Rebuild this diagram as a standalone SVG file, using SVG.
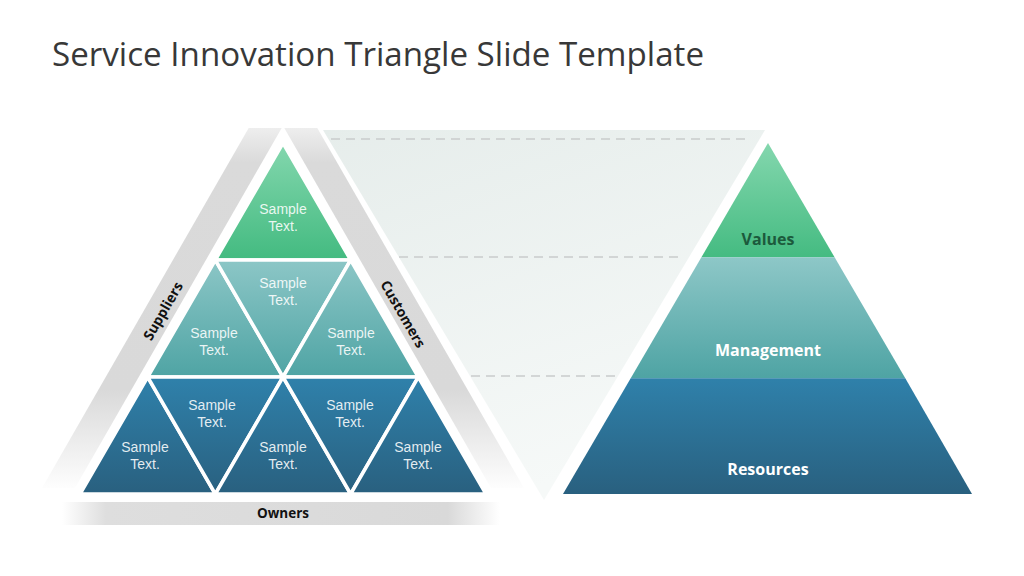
<svg xmlns="http://www.w3.org/2000/svg" width="1024" height="576" viewBox="0 0 1024 576">
  <style>
    .title { font-family: "Open Sans", "Liberation Sans", sans-serif; font-size: 33px; fill: #383838; }
    .st { font-family: "Liberation Sans", "Open Sans", sans-serif; font-size: 14px; fill: #ffffff; fill-opacity: 0.88; text-anchor: middle; }
    .lbl { font-family: "Open Sans", "Liberation Sans", sans-serif; font-size: 14px; font-weight: bold; fill: #111111; text-anchor: middle; }
    .lvl { font-family: "Open Sans", "Liberation Sans", sans-serif; font-size: 16px; font-weight: bold; fill: #ffffff; text-anchor: middle; }
    .cell { stroke: #ffffff; stroke-width: 3.5; stroke-linejoin: miter; }
    .dash { stroke: #c9cccb; stroke-width: 1.6; stroke-dasharray: 9 6; fill: none; }
  </style>
  <defs>
    <linearGradient id="gGreen" gradientUnits="userSpaceOnUse" x1="0" y1="143" x2="0" y2="258">
      <stop offset="0" stop-color="#84d7ae"/>
      <stop offset="1" stop-color="#44bb81"/>
    </linearGradient>
    <linearGradient id="gTeal" gradientUnits="userSpaceOnUse" x1="0" y1="258" x2="0" y2="377">
      <stop offset="0" stop-color="#8dc7c7"/>
      <stop offset="1" stop-color="#4fa4a4"/>
    </linearGradient>
    <linearGradient id="gBlue" gradientUnits="userSpaceOnUse" x1="0" y1="377" x2="0" y2="494">
      <stop offset="0" stop-color="#2f81ab"/>
      <stop offset="1" stop-color="#29607f"/>
    </linearGradient>
    <linearGradient id="gBand" gradientUnits="userSpaceOnUse" x1="0" y1="126" x2="0" y2="492">
      <stop offset="0" stop-color="#efefef"/>
      <stop offset="0.1" stop-color="#dadada"/>
      <stop offset="0.72" stop-color="#d9d9d9"/>
      <stop offset="1" stop-color="#ffffff"/>
    </linearGradient>
    <linearGradient id="gOwners" gradientUnits="userSpaceOnUse" x1="62" y1="0" x2="500" y2="0">
      <stop offset="0" stop-color="#ffffff"/>
      <stop offset="0.1" stop-color="#dedede"/>
      <stop offset="0.88" stop-color="#d9d9d9"/>
      <stop offset="1" stop-color="#ffffff"/>
    </linearGradient>
    <linearGradient id="gMid" x1="0" y1="0" x2="0.4" y2="1">
      <stop offset="0" stop-color="#e6edeb"/>
      <stop offset="1" stop-color="#f6f9f8"/>
    </linearGradient>
  </defs>

  <rect x="0" y="0" width="1024" height="576" fill="#ffffff"/>

  <text class="title" x="52" y="66" textLength="652" lengthAdjust="spacingAndGlyphs">Service Innovation Triangle Slide Template</text>

  <!-- Middle inverted triangle with dashed guides -->
  <g id="middle">
    <polygon points="323,130 765,130 544,500" fill="url(#gMid)"/>
    <line class="dash" x1="331" y1="139" x2="746" y2="139"/>
    <line class="dash" x1="399" y1="257" x2="680" y2="257"/>
    <line class="dash" x1="471" y1="376" x2="618" y2="376"/>
  </g>

  <!-- Frame bands -->
  <g id="band-suppliers">
    <polygon points="281.7,128 248.7,128 42,488 75,488" fill="url(#gBand)"/>
    <text class="lbl" transform="translate(163,311) rotate(-60)" y="5">Suppliers</text>
  </g>
  <g id="band-customers">
    <polygon points="284.3,128 317.3,128 524,488 491,488" fill="url(#gBand)"/>
    <text class="lbl" transform="translate(403,314) rotate(60)" y="5">Customers</text>
  </g>
  <g id="band-owners">
    <rect x="62" y="502" width="438" height="23" fill="url(#gOwners)"/>
    <text class="lbl" x="283" y="518" style="font-size:13.5px">Owners</text>
  </g>

  <!-- Left pyramid cells -->
  <g id="cell-1">
    <polygon class="cell" points="283,143 350.67,260 215.33,260" fill="url(#gGreen)"/>
    <text class="st" x="283" y="214">Sample</text>
    <text class="st" x="283" y="230.5">Text.</text>
  </g>
  <g id="cell-2">
    <polygon class="cell" points="215.33,260 283,377 147.67,377" fill="url(#gTeal)"/>
    <text class="st" x="214" y="338">Sample</text>
    <text class="st" x="214" y="354.5">Text.</text>
  </g>
  <g id="cell-3">
    <polygon class="cell" points="215.33,260 350.67,260 283,377" fill="url(#gTeal)"/>
    <text class="st" x="283" y="288">Sample</text>
    <text class="st" x="283" y="304.5">Text.</text>
  </g>
  <g id="cell-4">
    <polygon class="cell" points="350.67,260 418.33,377 283,377" fill="url(#gTeal)"/>
    <text class="st" x="351" y="338">Sample</text>
    <text class="st" x="351" y="354.5">Text.</text>
  </g>
  <g id="cell-5">
    <polygon class="cell" points="147.67,377 215.33,494 80,494" fill="url(#gBlue)"/>
    <text class="st" x="145" y="452">Sample</text>
    <text class="st" x="145" y="468.5">Text.</text>
  </g>
  <g id="cell-6">
    <polygon class="cell" points="147.67,377 283,377 215.33,494" fill="url(#gBlue)"/>
    <text class="st" x="212" y="410">Sample</text>
    <text class="st" x="212" y="426.5">Text.</text>
  </g>
  <g id="cell-7">
    <polygon class="cell" points="283,377 350.67,494 215.33,494" fill="url(#gBlue)"/>
    <text class="st" x="283" y="452">Sample</text>
    <text class="st" x="283" y="468.5">Text.</text>
  </g>
  <g id="cell-8">
    <polygon class="cell" points="283,377 418.33,377 350.67,494" fill="url(#gBlue)"/>
    <text class="st" x="350" y="410">Sample</text>
    <text class="st" x="350" y="426.5">Text.</text>
  </g>
  <g id="cell-9">
    <polygon class="cell" points="418.33,377 486,494 350.67,494" fill="url(#gBlue)"/>
    <text class="st" x="418" y="452">Sample</text>
    <text class="st" x="418" y="468.5">Text.</text>
  </g>

  <!-- Right pyramid -->
  <g id="level-values">
    <polygon points="768,143 834.6,257.3 701.4,257.3" fill="url(#gGreen)"/>
    <text class="lvl" x="768" y="245" style="fill:#1c5a3c">Values</text>
  </g>
  <g id="level-management">
    <polygon points="701.4,257.3 834.6,257.3 905.3,378.3 630.7,378.3" fill="url(#gTeal)"/>
    <text class="lvl" x="768" y="356">Management</text>
  </g>
  <g id="level-resources">
    <polygon points="630.7,378.3 905.3,378.3 972,494 563,494" fill="url(#gBlue)"/>
    <text class="lvl" x="768" y="475">Resources</text>
  </g>

  <g id="connectors"></g>
</svg>
